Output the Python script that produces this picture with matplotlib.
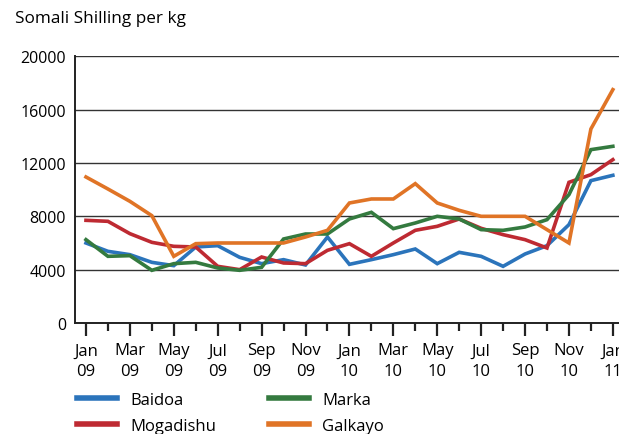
import matplotlib
matplotlib.use("Agg")
import matplotlib.pyplot as plt
from matplotlib.ticker import FixedLocator

plt.rcParams['font.family'] = ['Open Sans', 'DejaVu Sans']

months = list(range(25))
tick_labels = ["Jan\n09", "Mar\n09", "May\n09", "Jul\n09", "Sep\n09", "Nov\n09",
               "Jan\n10", "Mar\n10", "May\n10", "Jul\n10", "Sep\n10", "Nov\n10", "Jan\n11"]

baidoa = [6000, 5375, 5125, 4550, 4300, 5700, 5800, 4925, 4450, 4750, 4350, 6450,
          4400, 4750, 5125, 5550, 4450, 5300, 5000, 4250, 5175, 5800, 7375, 10675, 11075]
mogadishu = [7700, 7625, 6700, 6050, 5750, 5700, 4250, 4000, 4950, 4500, 4450, 5450,
             5950, 5000, 6000, 6950, 7250, 7800, 7100, 6625, 6250, 5625, 10550, 11125, 12250]
marka = [6250, 5000, 5050, 3950, 4450, 4550, 4125, 3950, 4175, 6300, 6675, 6675,
         7800, 8300, 7075, 7500, 8000, 7800, 7000, 6950, 7200, 7750, 9625, 13000, 13250]
galkayo = [10950, 10050, 9125, 8050, 5000, 5950, 6000, 6000, 6000, 6000, 6450, 6950,
           9000, 9300, 9300, 10450, 9000, 8450, 8000, 8000, 8000, 7000, 6000, 14550, 17500]

series = [("Baidoa", baidoa, "#2b74bb"),
          ("Mogadishu", mogadishu, "#be2a32"),
          ("Marka", marka, "#347a3f"),
          ("Galkayo", galkayo, "#e07426")]
yticks = [0, 4000, 8000, 12000, 16000, 20000]

fig = plt.figure(figsize=(6.19, 4.35), dpi=100)
ax = fig.add_axes([75/619, (435-324)/435, (619-75)/619, (324-57.3)/435])

handles = {}
for name, vals, col in series:
    h, = ax.plot(months, vals, color=col, lw=2.6, solid_joinstyle='miter', zorder=3)
    handles[name] = h

ax.set_ylim(0, 20000)
ax.set_xlim(-0.5, 24.28)
ax.set_yticks(yticks)
ax.set_yticklabels([str(v) for v in yticks])
ax.yaxis.grid(True, color='#333333', lw=1.0)
ax.set_axisbelow(True)
ax.tick_params(axis='y', length=0, labelsize=11.5, pad=6.5)

ax.set_xticks(months[::2])
ax.set_xticklabels(tick_labels, linespacing=1.38)
ax.xaxis.set_minor_locator(FixedLocator(months[1::2]))
ax.tick_params(axis='x', which='major', length=9.5, width=1.6, direction='out',
               labelsize=12, pad=4.5, color='#222222')
ax.tick_params(axis='x', which='minor', length=5.8, width=1.6, direction='out',
               color='#222222')

for s in ['top', 'right']:
    ax.spines[s].set_visible(False)
for s in ['left', 'bottom']:
    ax.spines[s].set_linewidth(1.4)
    ax.spines[s].set_color('#222222')

fig.text(15/619, 1 - 19/435, "Somali Shilling per kg", fontsize=12.3, va='center', ha='left')

order = ["Baidoa", "Mogadishu", "Marka", "Galkayo"]
leg = fig.legend([handles[n] for n in order], order, ncol=2,
                 loc='upper left', bbox_to_anchor=(77/619, 1 - 393/435),
                 frameon=False, fontsize=12, handlelength=2.4, handletextpad=0.78,
                 columnspacing=3.2, labelspacing=0.6, borderaxespad=0, borderpad=0)
for l in leg.get_lines():
    l.set_linewidth(4)

fig.savefig("out.png", dpi=100)
